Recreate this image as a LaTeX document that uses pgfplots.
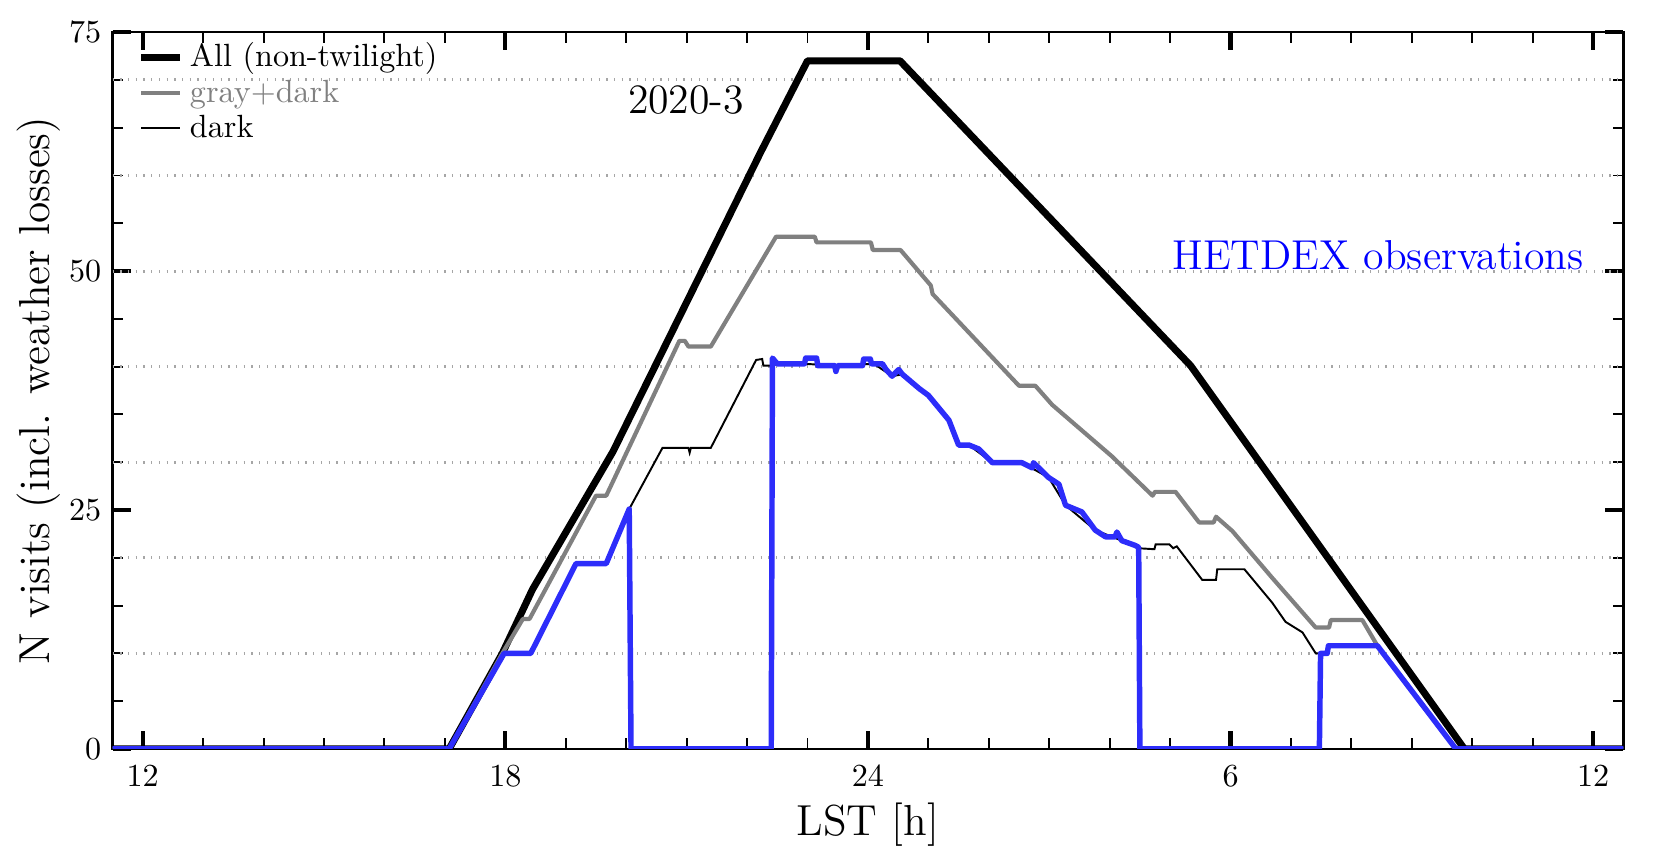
\documentclass[border=0pt]{standalone}
\usepackage{pgfplots}
\pgfplotsset{compat=1.18}
\definecolor{hetblue}{RGB}{45,45,250}
\definecolor{midgray}{RGB}{128,128,128}

\begin{document}
\begin{tikzpicture}
\begin{axis}[
    scale only axis,
    width=470pt, height=223pt,
    xmin=11.5, xmax=36.5,
    ymin=0, ymax=75,
    xtick={12,18,24,30,36},
    xticklabels={12,18,24,6,12},
    ytick={0,25,50,75},
    minor x tick num=5,
    minor y tick num=4,
    tick align=inside,
    major tick length=5.7pt,
    minor tick length=3.3pt,
    major tick style={line width=1.3pt, black},
    minor tick style={line width=0.6pt, black},
    axis line style={line width=0.8pt},
    tick label style={font=\fontsize{10}{12}\selectfont},
    xticklabel style={yshift=-1.5pt},
    xlabel={LST [h]},
    ylabel={N visits (incl. weather losses)},
    label style={font=\fontsize{13.5}{16}\selectfont},
    x label style={at={(axis description cs:0.5,-0.105)}, anchor=center},
    y label style={at={(axis description cs:-0.049,0.5)}, anchor=center},
    extra y ticks={10,20,30,40,50,60,70},
    extra y tick labels={},
    extra y tick style={grid=major, major tick length=0pt,
        major grid style={dotted, gray!70, line width=0.9pt}},
    legend style={draw=none, fill=none, at={(0.01,1.004)}, anchor=north west,
        font=\fontsize{10}{12}\selectfont, row sep=-1.5pt},
    legend cell align=left,
    legend image code/.code={\draw[#1] (0pt,0pt) -- (12pt,0pt);},
]

% all non-twilight time
\addplot[black, line width=2.2pt, line join=round] coordinates {
    (11.5,0) (17.07,0) (17.95,10) (18.45,16.7) (19.78,31.1) (22.23,62.5)
    (23.0,72) (24.53,72) (29.34,40.1) (33.87,0) (36.5,0)
};
\addlegendentry{All (non-twilight)}

% gray + dark time
\addplot[midgray, line width=1.3pt, line join=round] coordinates {
    (11.5,0) (17.07,0) (17.95,10) (18.29,13.6) (18.4,13.6) (19.5,26.5)
    (19.67,26.5) (20.88,42.7) (20.97,42.7) (21.03,42.1) (21.4,42.1)
    (22.48,53.6) (23.12,53.6) (23.15,53.0) (24.05,53.0) (24.08,52.2)
    (24.54,52.2) (25.04,48.5) (25.07,47.6) (26.5,38.0) (26.77,38.0)
    (27.05,36.0) (28.04,30.6) (28.71,26.5) (28.75,26.9) (29.09,26.9)
    (29.48,23.7) (29.72,23.7) (29.76,24.3) (30.03,22.8) (30.69,17.9)
    (31.41,12.7) (31.63,12.7) (31.66,13.5) (32.18,13.5) (32.43,10.8)
    (33.73,0) (36.5,0)
};
\addlegendentry{\textcolor{midgray}{gray+dark}}

% dark time
\addplot[black, line width=0.6pt] coordinates {
    (11.5,0) (17.07,0) (17.98,10.0) (18.42,10.0) (19.17,19.4) (19.67,19.4)
    (20.05,25.1) (20.6,31.5) (21.03,31.5) (21.05,31.0) (21.07,31.5)
    (21.4,31.5) (22.15,40.7) (22.25,40.8) (22.27,40.1) (22.42,40.1)
    (22.5,40.3) (22.95,40.3) (23.45,40.1) (24.1,40.3) (24.4,39.0)
    (24.57,39.2) (25.0,37.0) (25.34,34.4) (25.5,31.8) (25.67,31.8)
    (26.06,29.95) (26.55,29.95) (26.99,28.4) (27.27,25.5) (27.76,22.9)
    (28.2,21.8) (28.48,21.0) (28.74,20.9) (28.76,21.4) (28.99,21.4)
    (29.05,21.0) (29.11,21.2) (29.53,17.7) (29.76,17.7) (29.78,18.8)
    (30.23,18.8) (30.69,15.3) (30.91,13.3) (31.19,12.2) (31.41,10.0)
    (31.6,10.0) (31.62,10.8) (32.43,10.8) (33.73,0) (36.5,0)
};
\addlegendentry{dark}

% HETDEX observations
\addplot[hetblue, line width=1.7pt, line join=round, forget plot] coordinates {
    (11.5,0) (17.07,0) (17.98,10.0) (18.42,10.0) (19.17,19.4) (19.67,19.4)
    (20.05,25.1) (20.08,0) (22.40,0) (22.42,40.9) (22.5,40.3) (22.95,40.3)
    (22.97,40.9) (23.15,40.9) (23.17,40.1) (23.45,40.1) (23.47,39.5)
    (23.5,40.1) (23.91,40.1) (23.93,40.8) (24.04,40.8) (24.06,40.3)
    (24.24,40.3) (24.3,39.7) (24.4,39.0) (24.51,39.7) (24.57,39.2)
    (24.85,37.7) (25.0,37.0) (25.34,34.4) (25.5,31.8) (25.67,31.8)
    (25.83,31.4) (25.94,30.7) (26.06,29.95) (26.55,29.95) (26.72,29.4)
    (26.74,29.95) (26.99,28.4) (27.16,27.7) (27.27,25.5) (27.54,24.8)
    (27.76,22.9) (27.93,22.2) (28.09,22.2) (28.12,22.7) (28.2,21.8)
    (28.42,21.3) (28.48,21.1) (28.50,0) (31.47,0) (31.49,10.0) (31.6,10.0)
    (31.62,10.8) (32.43,10.8) (33.73,0) (36.5,0)
};

\node[font=\fontsize{13}{15}\selectfont] at (axis cs:20.99,67.9) {2020-3};
\node[font=\fontsize{13}{15}\selectfont, text=blue] at (axis cs:32.44,51.7) {HETDEX observations};
\end{axis}
\pgfresetboundingbox
\path[use as bounding box] ([shift={(-35pt,-36pt)}]current axis.south west)
    rectangle ([shift={(17pt,10pt)}]current axis.north east);
\end{tikzpicture}
\end{document}
